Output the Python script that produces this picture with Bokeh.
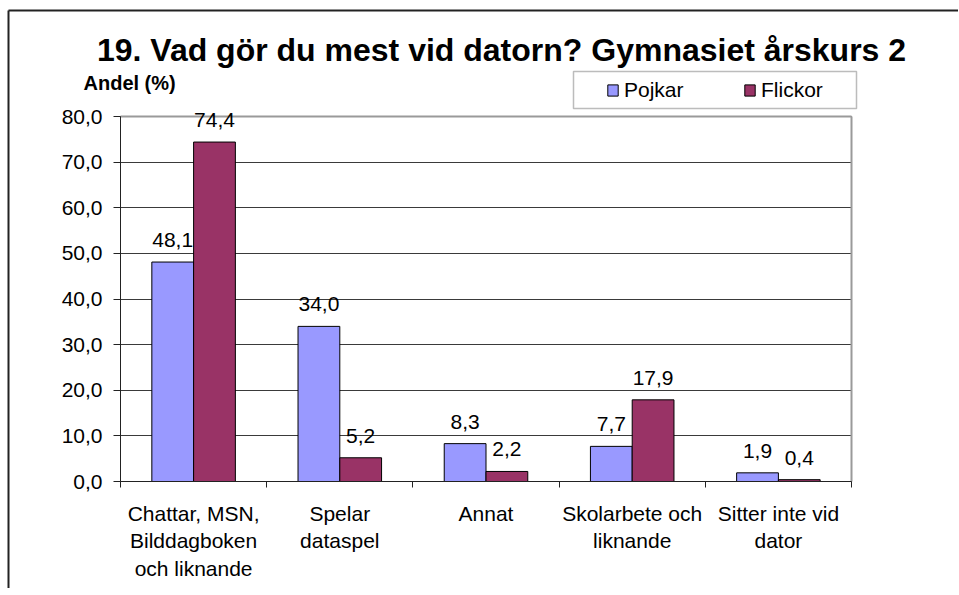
from bokeh.plotting import figure
from bokeh.models import (Range1d, FixedTicker, ColumnDataSource, LabelSet, Label,
                          Legend, LegendItem, BoxAnnotation, Grid)
from bokeh.core.properties import value
from bokeh.embed import file_html
from bokeh.resources import INLINE

# ---- data ----
categories = ["Chattar, MSN,\nBilddagboken\noch liknande", "Spelar\ndataspel", "Annat",
              "Skolarbete och\nliknande", "Sitter inte vid\ndator"]
pojkar = [48.1, 34.0, 8.3, 7.7, 1.9]
flickor = [74.4, 5.2, 2.2, 17.9, 0.4]
series_names = ["Pojkar", "Flickor"]
y_ticks = [0, 10, 20, 30, 40, 50, 60, 70, 80]
title_text = "19. Vad gör du mest vid datorn? Gymnasiet årskurs 2"
y_title = "Andel (%)"

# ---- styles ----
FONT = "Liberation Sans"
C_POJ = "#9999FF"
C_FLI = "#993366"
GRID_C = "#3a3a3a"
BORDER_C = "#9a9a9a"
FRAME_C = "#222222"

# page geometry of the plot area (used to place everything)
FR_L, FR_R, FR_T, FR_B = 120, 851, 116, 481
Y_MAX = y_ticks[-1]
N = len(categories)

CX0, CY0 = 0, 0       # canvas origin on the page
W, H = 958, 588       # canvas size
OUT_X, OUT_Y = 8, 10  # outer chart border (left / top), page pixels


def px(X):
    return (X - FR_L) / (FR_R - FR_L) * N


def py(Y):
    return (FR_B - Y) / (FR_B - FR_T) * Y_MAX


def fmt(v):
    return f"{v:.1f}".replace(".", ",")


p = figure(width=W, height=H,
           x_range=Range1d(px(CX0), px(CX0 + W)),
           y_range=Range1d(py(CY0 + H), py(CY0)),
           output_backend="svg", toolbar_location=None, min_border=0,
           background_fill_color="white", border_fill_color="white",
           outline_line_color=None, outline_line_alpha=0)
p.styles = {"border": "none", "outline": "none", "box-shadow": "none"}

# outer chart border (left and top only; the rest lies beyond the window)
p.segment(x0=[px(OUT_X), px(OUT_X)], y0=[py(OUT_Y), py(OUT_Y)],
          x1=[px(OUT_X), px(CX0 + W)], y1=[py(CY0 + H), py(OUT_Y)],
          line_color=FRAME_C, line_width=2)

bar_w = 1 / 3.5
centers = [i + 0.5 for i in range(N)]
src_p = ColumnDataSource(dict(x=[c - bar_w / 2 for c in centers], top=pojkar,
                              lab=[fmt(v) for v in pojkar]))
src_f = ColumnDataSource(dict(x=[c + bar_w / 2 for c in centers], top=flickor,
                              lab=[fmt(v) for v in flickor]))

# grid
p.xgrid.visible = False
yg = p.ygrid[0]
yg.ticker = FixedTicker(ticks=y_ticks)
yg.grid_line_color = GRID_C
yg.grid_line_width = 1
if "cross_bounds" in Grid.properties():
    yg.cross_bounds = (0, N)
    yg.bounds = (0, Y_MAX)
else:
    yg.visible = False
    p.segment(x0=[0] * len(y_ticks), x1=[N] * len(y_ticks), y0=y_ticks, y1=y_ticks,
              line_color=GRID_C, line_width=1)

# plot-area border (top and right, grey)
p.segment(x0=[0, N], y0=[Y_MAX, 0], x1=[N, N], y1=[Y_MAX, Y_MAX],
          line_color=BORDER_C, line_width=2)

r_p = p.vbar(x="x", top="top", bottom=0, width=bar_w, source=src_p,
             fill_color=C_POJ, line_color="black", line_width=1)
r_f = p.vbar(x="x", top="top", bottom=0, width=bar_w, source=src_f,
             fill_color=C_FLI, line_color="black", line_width=1)

for src in (src_p, src_f):
    p.add_layout(LabelSet(x="x", y="top", text="lab", source=src, text_align="center",
                          text_baseline="alphabetic", y_offset=15,
                          text_font=value(FONT), text_font_size="21px", text_color="black"))

# axes (drawn at fixed data locations)
ya = p.yaxis[0]
ya.fixed_location = 0
ya.bounds = (0, Y_MAX)
ya.ticker = FixedTicker(ticks=y_ticks)
ya.major_label_overrides = {t: fmt(t) for t in y_ticks}
ya.major_label_text_font = FONT
ya.major_label_text_font_size = "21px"
ya.major_label_text_color = "black"
ya.major_tick_out = 7
ya.major_tick_in = 0
ya.minor_tick_line_color = None
ya.major_label_standoff = 11
ya.axis_line_color = FRAME_C
ya.major_tick_line_color = FRAME_C

xa = p.xaxis[0]
xa.fixed_location = 0
xa.bounds = (0, N)
xa.ticker = FixedTicker(ticks=centers, minor_ticks=list(range(N + 1)))
xa.major_label_overrides = {c: lab for c, lab in zip(centers, categories)}
xa.major_label_text_font = FONT
xa.major_label_text_font_size = "21px"
xa.major_label_text_color = "black"
xa.major_label_text_line_height = 1.2
xa.major_tick_line_color = None
xa.major_tick_out = 0
xa.major_tick_in = 0
xa.minor_tick_out = 6
xa.minor_tick_in = 0
xa.minor_tick_line_color = FRAME_C
xa.major_label_standoff = 14
xa.axis_line_color = FRAME_C

# title and axis title
p.add_layout(Label(x=px(501), y=py(49), text=title_text, text_align="center",
                   text_baseline="alphabetic", text_font=FONT, text_font_size="32px",
                   text_font_style="bold", text_color="black"))
p.add_layout(Label(x=px(83), y=py(82), text=y_title, text_align="left",
                   text_baseline="alphabetic", text_font=FONT, text_font_size="20px",
                   text_font_style="bold", text_color="black"))

# legend box + legend
p.add_layout(BoxAnnotation(left=px(573), right=px(856), top=py(71), bottom=py(108),
                           fill_color="white", fill_alpha=1, line_color=FRAME_C,
                           line_width=1.5, level="annotation"))
legend = Legend(items=[LegendItem(label=series_names[0], renderers=[r_p]),
                       LegendItem(label=series_names[1], renderers=[r_f])],
                orientation="horizontal", location=(606 - CX0, (CY0 + H) - 102),
                padding=0, margin=0, spacing=49, label_width=70, label_standoff=5,
                glyph_width=13, glyph_height=14, border_line_alpha=0,
                background_fill_alpha=0, label_text_font=FONT,
                label_text_font_size="21px", label_text_color="black")
p.add_layout(legend)

open("out.html", "w").write(file_html(p, INLINE))
